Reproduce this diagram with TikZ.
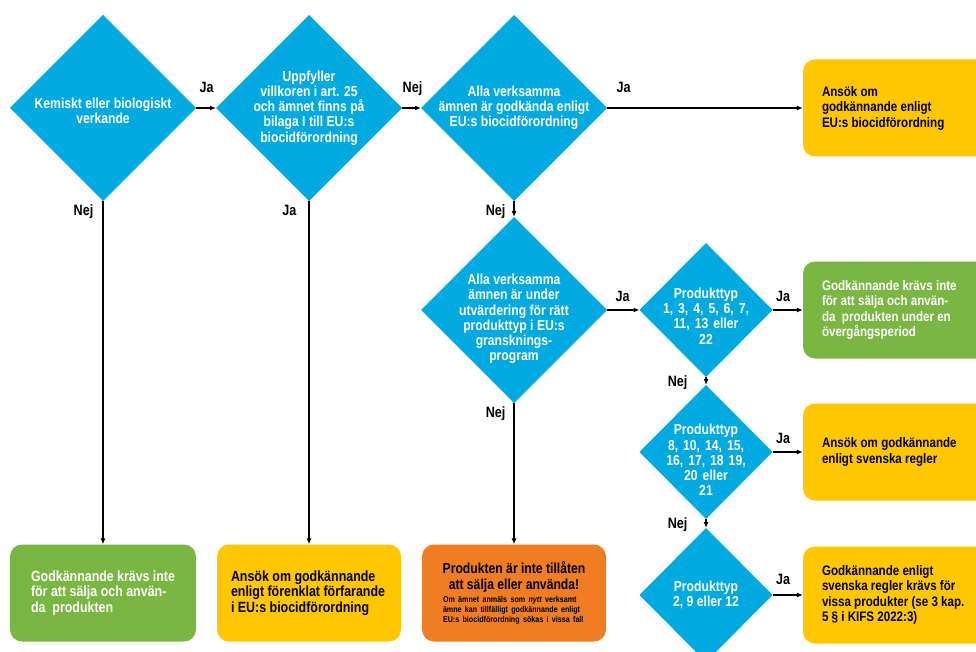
\documentclass[tikz,border=0pt]{standalone}
\usepackage{fontspec}
\setmainfont{Liberation Sans}[FakeStretch=0.84]
\usetikzlibrary{arrows.meta, shapes.geometric}

\definecolor{eublue}{RGB}{0,169,224}
\definecolor{euyellow}{RGB}{255,199,0}
\definecolor{eugreen}{RGB}{122,183,66}
\definecolor{euorange}{RGB}{239,125,36}

\newcommand{\bredmellanrum}{\spaceskip=5pt plus 1pt\relax}

\begin{document}
\begin{tikzpicture}[x=1pt, y=-1pt, node distance=205,
    beslut/.style = {diamond, fill=eublue, inner sep=0pt, outer sep=0pt, minimum width=186, minimum height=186},
    litet/.style = {beslut, minimum width=133, minimum height=134},
    dtext/.style = {text=white, font=\bfseries\fontsize{14.5}{15.2}\selectfont, align=center},
    siffror/.style = {dtext, font=\bfseries\fontsize{14.5}{15.2}\selectfont\bredmellanrum},
    ruta/.style = {rectangle, rounded corners=12pt, inner sep=0pt, minimum width=198, minimum height=97, text width=160, align=flush left, font=\bfseries\fontsize{13.8}{15.5}\selectfont},
    nedre/.style = {font=\bfseries\fontsize{14.8}{15.5}\selectfont},
    gul/.style = {ruta, fill=euyellow},
    gron/.style = {ruta, fill=eugreen, text=white},
    rod/.style = {rectangle, rounded corners=12pt, inner sep=0pt, minimum width=184, minimum height=97, text width=152, fill=euorange, font=\bfseries},
    pil/.style = {-{Latex[length=6pt,width=5pt]}, line width=1.3pt},
    svar/.style = {font=\bfseries\fontsize{15}{15}\selectfont, inner sep=1pt},
    lh/.style = {svar, pos=0, anchor=base west},
    lv/.style = {svar, pos=0, anchor=base east}]
    \clip (0,0) rectangle (976,652);

    \node[beslut, label={[dtext, yshift=-3pt]center:{Kemiskt eller biologiskt\\verkande}}] (kemiskt) at (103,108) {};
    \node[beslut, label={[dtext]center:{Uppfyller\\villkoren i art. 25\\och ämnet finns på\\bilaga I till EU:s\\biocidförordning}}] (villkor) [right of=kemiskt, node distance=206] {};
    \node[beslut, label={[dtext]center:{Alla verksamma\\ämnen är godkända enligt\\EU:s biocidförordning}}] (godkand) [right of=villkor] {};
    \node[beslut, label={[dtext, yshift=-9pt]center:{Alla verksamma\\ämnen är under\\utvärdering för rätt\\produkttyp i EU:s\\gransknings-\\program}}] (granskning) [below of=godkand, node distance=202] {};

    \node[litet, label={[siffror, yshift=-6pt]center:{Produkttyp\\1, 3, 4, 5, 6, 7,\\11, 13 eller\\22}}] (typA) [right of=granskning, node distance=192] {};
    \node[litet, label={[siffror, yshift=-8pt]center:{Produkttyp\\8, 10, 14, 15,\\16, 17, 18 19,\\20 eller\\21}}] (typB) [below of=typA, node distance=142] {};
    \node[litet, label={[dtext]center:{Produkttyp\\2, 9 eller 12}}] (typC) [below of=typB, node distance=143] {};

    \node[gron, nedre, minimum width=186, text width=144] (intekravs) [below of=kemiskt, node distance=485] {Godkännande krävs inte\\för att sälja och använ-\\da\ \ produkten};
    \node[gul, nedre, minimum width=184, text width=156] (forenklat) [below of=villkor, node distance=485] {Ansök om godkännande\\enligt förenklat förfarande\\i EU:s biocidförordning};
    \node[rod] (ejtillaten) [below of=granskning, node distance=283] {\parindent=0pt{\centering\fontsize{14.5}{15.5}\selectfont Produkten är inte tillåten\\att sälja eller använda!\par}\vspace{3pt}{\raggedright\leftskip=5pt\fontsize{8.5}{10}\selectfont Om ämnet anmäls som \textit{nytt} verksamt\\ämne kan tillfälligt godkännande enligt\\EU:s biocidförordning sökas i vissa fall\par}};

    \node[gul] (ansokeu) [right of=godkand, node distance=388] {Ansök om\\godkännande enligt\\EU:s biocidförordning};
    \node[gron] (overgang) [right of=typA, node distance=196] {Godkännande krävs inte\\för att sälja och använ-\\da\ \ produkten under en\\övergångsperiod};
    \node[gul] (svenska) [right of=typB, node distance=196] {Ansök om godkännande\\enligt svenska regler};
    \node[gul] (vissa) [right of=typC, node distance=196] {Godkännande enligt\\svenska regler krävs för\\vissa produkter (se 3 kap.\\5 § i KIFS 2022:3)};

    \path[pil] (kemiskt) edge node[lh, xshift=2pt, yshift=15pt] {Ja} (villkor);
    \path[pil] (villkor) edge node[lh, xshift=-1pt, yshift=15pt] {Nej} (godkand);
    \path[pil] (godkand) edge node[lh, xshift=8pt, yshift=15pt] {Ja} (ansokeu);
    \path[pil] (godkand) edge node[lv, xshift=-7pt, yshift=-14pt] {Nej} (granskning);

    \path[pil] (kemiskt) edge node[lv, xshift=-8pt, yshift=-14pt] {Nej} (intekravs);
    \path[pil] (villkor) edge node[lv, xshift=-11pt, yshift=-14pt] {Ja} (forenklat);
    \path[pil] (granskning) edge node[lv, xshift=-7pt, yshift=-14pt] {Nej} (ejtillaten);

    \path[pil] (granskning) edge node[lh, xshift=7pt, yshift=9pt] {Ja} (typA);
    \path[pil] (typA) edge node[lh, xshift=2pt, yshift=9pt] {Ja} (overgang);
    \path[pil] (typA) edge node[lv, xshift=-17pt, yshift=-9pt] {Nej} (typB);
    \path[pil] (typB) edge node[lh, xshift=2pt, yshift=9pt] {Ja} (svenska);
    \path[pil] (typB) edge node[lv, xshift=-17pt, yshift=-9pt] {Nej} (typC);
    \path[pil] (typC) edge node[lh, xshift=2pt, yshift=11pt] {Ja} (vissa);
\end{tikzpicture}
\end{document}
